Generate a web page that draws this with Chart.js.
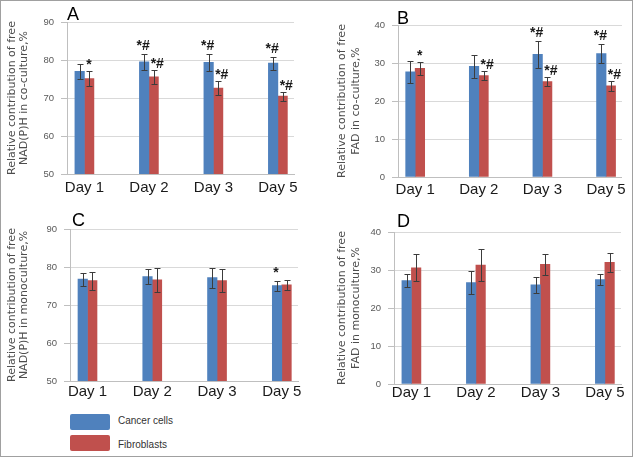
<!DOCTYPE html>
<html><head><meta charset="utf-8">
<script src="https://cdn.jsdelivr.net/npm/chart.js@4/dist/chart.umd.min.js"></script>
<style>
html,body{margin:0;padding:0;background:#fff;}
#wrap{position:relative;width:634px;height:458px;background:#fff;overflow:hidden;}
#frame{position:absolute;left:0;top:0;width:631px;height:455px;border:1px solid #a0a0a0;pointer-events:none;}
canvas{position:absolute;}
.letter{position:absolute;font:18px/18px "Liberation Sans",Arial,sans-serif;color:#000;}
.sw{position:absolute;left:70px;width:40px;height:16px;border-radius:2px;}
.lt{position:absolute;left:118px;font:10px/12px "Liberation Sans",Arial,sans-serif;color:#333;}
</style></head>
<body><div id="wrap">
<canvas id="cA" width="310" height="210" style="left:0;top:0"></canvas>
<canvas id="cB" width="300" height="210" style="left:330px;top:0"></canvas>
<canvas id="cC" width="310" height="200" style="left:0;top:210px"></canvas>
<canvas id="cD" width="300" height="200" style="left:330px;top:210px"></canvas>
<div class="letter" style="left:67px;top:5px">A</div>
<div class="letter" style="left:397px;top:9px">B</div>
<div class="letter" style="left:72px;top:211px">C</div>
<div class="letter" style="left:397px;top:212px">D</div>
<div id="legend"></div>
<div id="frame"></div>
</div>
<script>
// ---- data ----
const categories = ['Day 1', 'Day 2', 'Day 3', 'Day 5'];
const seriesNames = ['Cancer cells', 'Fibroblasts'];
const seriesColors = ['#4F81BD', '#C0504D'];

// A: NAD(P)H, co-culture
const nadCoCancer = [77.0, 79.5, 79.4, 79.2];
const nadCoCancerErr = [1.9, 2.2, 2.3, 1.7];
const nadCoFibro = [75.1, 75.6, 72.6, 70.5];
const nadCoFibroErr = [1.9, 1.9, 1.8, 1.2];
const nadCoCancerSig = ['', '*#', '*#', '*#'];
const nadCoFibroSig = ['*', '*#', '*#', '*#'];

// B: FAD, co-culture
const fadCoCancer = [27.7, 29.1, 32.3, 32.5];
const fadCoCancerErr = [2.9, 3.1, 3.6, 2.5];
const fadCoFibro = [28.6, 26.7, 25.1, 24.0];
const fadCoFibroErr = [1.7, 1.3, 1.2, 1.3];
const fadCoCancerSig = ['', '', '*#', '*#'];
const fadCoFibroSig = ['*', '*#', '*#', '*#'];

// C: NAD(P)H, monoculture
const nadMonoCancer = [76.8, 77.5, 77.2, 75.1];
const nadMonoCancerErr = [1.7, 1.9, 2.6, 1.3];
const nadMonoFibro = [76.4, 76.6, 76.4, 75.3];
const nadMonoFibroErr = [2.4, 3.2, 3.1, 1.3];
const nadMonoCancerSig = ['', '', '', '*'];
const nadMonoFibroSig = ['', '', '', ''];

// D: FAD, monoculture
const fadMonoCancer = [27.2, 26.7, 26.1, 27.5];
const fadMonoCancerErr = [1.7, 3.1, 2.1, 1.4];
const fadMonoFibro = [30.6, 31.3, 31.5, 32.0];
const fadMonoFibroErr = [3.5, 4.2, 2.7, 2.5];
const fadMonoCancerSig = ['', '', '', ''];
const fadMonoFibroSig = ['', '', '', ''];

// axis ranges
const nadRange = [50, 90];
const fadRange = [0, 40];
const yStep = 10;

const titleA = ['Relative contribution of free', 'NAD(P)H in co-culture,%'];
const titleB = ['Relative contribution of free', 'FAD in co-culture,%'];
const titleC = ['Relative contribution of free', 'NAD(P)H in monoculture,%'];
const titleD = ['Relative contribution of free', 'FAD in monoculture,%'];

// ---- legend ----
const leg = document.getElementById('legend');
seriesNames.forEach((n, i) => {
  const sw = document.createElement('div');
  sw.className = 'sw'; sw.style.top = (414 + i * 21) + 'px'; sw.style.background = seriesColors[i];
  const t = document.createElement('div');
  t.className = 'lt'; t.style.top = (415 + i * 24) + 'px'; t.textContent = n;
  leg.appendChild(sw); leg.appendChild(t);
});

// ---- plugin: error bars + significance marks ----
const errPlugin = {
  id: 'errbars',
  afterDatasetsDraw(chart) {
    const ctx = chart.ctx, ys = chart.scales.y;
    ctx.save();
    chart.data.datasets.forEach((ds, di) => {
      const meta = chart.getDatasetMeta(di);
      meta.data.forEach((el, i) => {
        const v = ds.data[i].y, e = ds.errors[i];
        const top = Math.round(ys.getPixelForValue(v + e)) + 0.5;
        const bot = Math.round(ys.getPixelForValue(v - e)) + 0.5;
        const x = Math.round(el.x) + 0.5;
        ctx.strokeStyle = '#3c3c3c'; ctx.lineWidth = 1;
        ctx.beginPath();
        ctx.moveTo(x, top); ctx.lineTo(x, bot);
        ctx.moveTo(x - 3, top); ctx.lineTo(x + 3, top);
        ctx.moveTo(x - 3, bot); ctx.lineTo(x + 3, bot);
        ctx.stroke();
        const s = ds.sig[i];
        if (s) {
          ctx.fillStyle = '#1a1a1a';
          ctx.font = 'bold 14px "Liberation Sans", Arial, sans-serif';
          ctx.textBaseline = 'alphabetic';
          if (di === 0) { ctx.textAlign = 'center'; ctx.fillText(s, el.x - 1, top - 5); }
          else { ctx.textAlign = 'left'; ctx.fillText(s, el.x - 3, top - 3); }
        }
      });
    });
    ctx.restore();
  }
};

const FONT = '"Liberation Sans", Arial, sans-serif';
function pts(vals) { return vals.map((v, i) => ({x: i, y: v})); }

function makeChart(id, cfg) {
  new Chart(document.getElementById(id), {
    type: 'bar',
    data: {
      datasets: [
        {label: seriesNames[0], data: pts(cfg.a), errors: cfg.ae, sig: cfg.as, backgroundColor: seriesColors[0], borderWidth: 0, barThickness: 9.5},
        {label: seriesNames[1], data: pts(cfg.b), errors: cfg.be, sig: cfg.bs, backgroundColor: seriesColors[1], borderWidth: 0, barThickness: 9.5}
      ]
    },
    options: {
      responsive: false, animation: false, devicePixelRatio: 1,
      layout: {padding: {left: 0, top: cfg.pt, right: cfg.pr, bottom: 0}},
      plugins: {legend: {display: false}, tooltip: {enabled: false}},
      scales: {
        x: {
          type: 'linear', min: -0.27, max: 3.25, offset: false,
          afterBuildTicks: s => { s.ticks = categories.map((c, i) => ({value: i})); },
          afterFit: s => { s.height = cfg.xh; },
          grid: {display: false, drawTicks: false},
          border: {display: true, color: '#bfbfbf'},
          ticks: {callback: v => categories[v] ?? '', color: '#1a1a1a', padding: cfg.xp,
                  font: {family: FONT, size: 15, lineHeight: 1.2}, autoSkip: false, maxRotation: 0}
        },
        y: {
          min: cfg.range[0], max: cfg.range[1],
          afterFit: s => { s.width = cfg.yw; },
          ticks: {stepSize: yStep, color: '#595959', padding: 7, font: {family: FONT, size: 9.5}},
          grid: {color: '#d9d9d9', tickColor: '#bfbfbf', tickLength: 6, drawTicks: true},
          border: {color: '#bfbfbf'},
          title: {display: true, text: cfg.title, color: '#4d4d4d',
                  font: {family: '"DejaVu Sans", sans-serif', size: 11, lineHeight: cfg.lh},
                  padding: {top: cfg.tp, bottom: 0}}
        }
      }
    },
    plugins: [errPlugin]
  });
}

makeChart('cA', {a: nadCoCancer, ae: nadCoCancerErr, as: nadCoCancerSig, b: nadCoFibro, be: nadCoFibroErr, bs: nadCoFibroSig,
  range: nadRange, title: titleA, pt: 22, pr: 16, xh: 36, yw: 67, xp: 5, lh: '12px', tp: 6.5});
makeChart('cB', {a: fadCoCancer, ae: fadCoCancerErr, as: fadCoCancerSig, b: fadCoFibro, be: fadCoFibroErr, bs: fadCoFibroSig,
  range: fadRange, title: titleB, pt: 25, pr: 5, xh: 33, yw: 68, xp: 4, lh: '14px', tp: 5});
makeChart('cC', {a: nadMonoCancer, ae: nadMonoCancerErr, as: nadMonoCancerSig, b: nadMonoFibro, be: nadMonoFibroErr, bs: nadMonoFibroSig,
  range: nadRange, title: titleC, pt: 19, pr: 12, xh: 29, yw: 70, xp: 2, lh: '12px', tp: 6.5});
makeChart('cD', {a: fadMonoCancer, ae: fadMonoCancerErr, as: fadMonoCancerSig, b: fadMonoFibro, be: fadMonoFibroErr, bs: fadMonoFibroSig,
  range: fadRange, title: titleD, pt: 22, pr: 9, xh: 26, yw: 64, xp: 0, lh: '14px', tp: 5.5});
</script>
</body></html>
